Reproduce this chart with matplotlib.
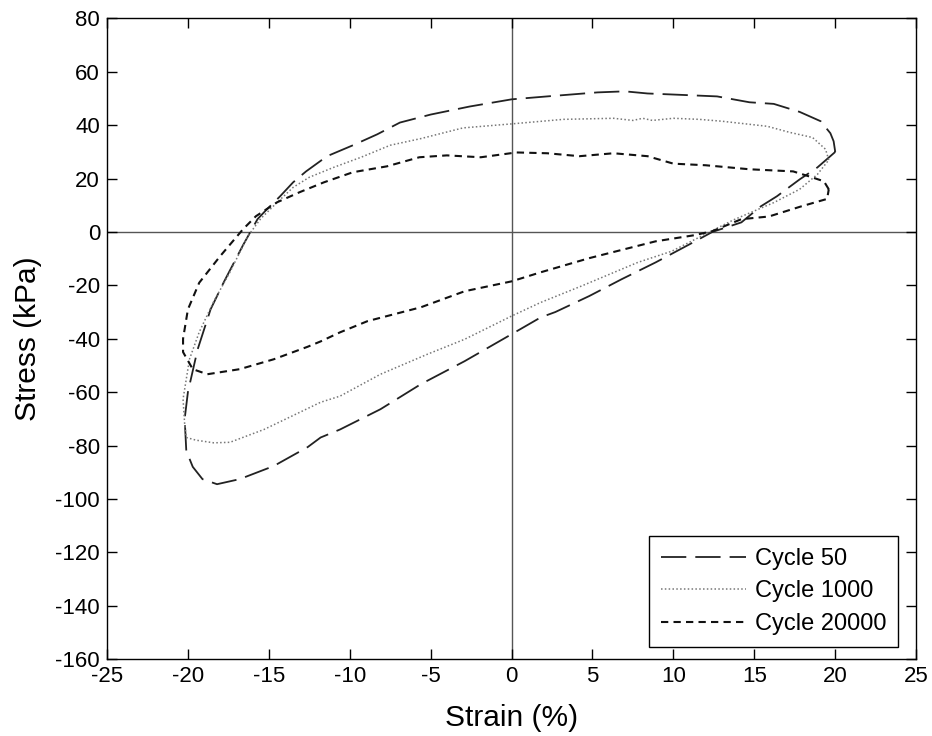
import matplotlib
matplotlib.use("Agg")
import matplotlib.pyplot as plt

# Cycle 50 loop (upper branch right->left, then lower branch left->right)
c50_x = [20.0, 19.9, 19.7, 19.1, 17.8, 16.2, 14.7, 12.7, 10.0, 8.4, 7.0, 5.3, 2.2, 0.0,
         -2.6, -5.0, -6.9, -8.3, -9.8, -11.4, -12.7, -13.5, -14.3, -15.2, -15.7, -16.6,
         -17.8, -18.6, -19.4, -20.0, -20.2, -20.1, -19.7, -19.1, -18.2, -16.8, -14.7,
         -12.6, -11.8, -10.6, -8.1, -5.6, -2.9, 0.0, 1.8, 2.7, 4.8, 6.8, 8.9, 11.0, 12.4,
         14.2, 15.4, 16.4, 17.8, 18.9, 20.0]
c50_y = [30, 34, 37, 41.5, 45, 48, 48.6, 50.8, 51.5, 51.9, 52.7, 52.3, 50.8, 49.7,
         47, 44, 41, 36.6, 32.5, 28.4, 22.7, 18.6, 13.4, 8, 4.8, -5,
         -19, -29, -44, -60, -70, -82, -88, -92.6, -94.5, -92.6, -87.7,
         -80.6, -77, -74, -66.4, -57, -48.4, -38.3, -32, -30, -24, -17.7, -11.4, -4.6, 0,
         3.6, 9.6, 13.4, 19.7, 24.2, 30]

# Cycle 1000 loop
c1000_x = [19.6, 19.4, 18.6, 17.2, 15.8, 13.0, 11.6, 10.0, 8.7, 8.1, 7.5, 6.3, 3.2, 0.0,
           -3.0, -5.6, -7.5, -9.3, -11.0, -12.5, -13.5, -14.5, -15.5, -16.3, -17.4, -18.4,
           -19.3, -19.9, -20.3, -20.2, -20.1, -19.5, -18.4, -17.4, -15.3, -13.1, -11.8,
           -10.6, -8.1, -5.2, -2.9, 0.0, 1.8, 4.3, 7.8, 9.9, 12.2, 13.7, 16.2, 17.8, 18.9, 19.6]
c1000_y = [27, 31, 35.4, 37.3, 39.6, 41.5, 42.2, 42.6, 41.8, 42.6, 41.8, 42.6, 42.2, 40.5,
           39, 35, 32.5, 28, 24.2, 20.5, 16.7, 11, 5, -1.6, -15, -26,
           -37.5, -47.6, -62.6, -72, -77, -78, -79, -78.8, -74, -67.6, -63.8,
           -61.5, -53.3, -45.8, -40.2, -31.5, -26.4, -20.3, -11.4, -7.2, -0.1, 4.5, 11, 16, 21.6, 27]

# Cycle 20000 loop
c20000_x = [19.6, 19.3, 18.4, 17.4, 14.7, 12.0, 10.0, 8.4, 6.3, 4.2, 2.2, 0.3, -1.9, -4.0,
            -5.7, -7.7, -9.8, -11.6, -13.1, -14.5, -15.8, -16.6, -18.0, -19.3, -20.0,
            -20.3, -20.3, -19.7, -18.8, -16.8, -14.7, -12.6, -11.8, -10.6, -8.9, -5.6,
            -2.9, 0.0, 1.8, 4.8, 8.9, 11.3, 12.4, 14.2, 15.9, 17.9, 19.5, 19.6]
c20000_y = [16, 19, 20.8, 22.7, 23.5, 25, 25.6, 28.4, 29.5, 28.4, 29.5, 29.8, 28, 28.7,
            28, 24.6, 22.4, 18.6, 14.9, 11.1, 5.9, 1, -9, -19, -29,
            -40, -45, -51.4, -53.3, -51.4, -47.7, -43, -41, -37.6, -33.4, -28.2,
            -22.2, -18.5, -15.1, -9.8, -3.5, -1.2, 0.3, 4.8, 5.8, 9.6, 12.4, 16]

x_ticks = list(range(-25, 30, 5))
y_ticks = list(range(-160, 100, 20))

plt.rcParams['font.family'] = ['Liberation Sans', 'DejaVu Sans']
plt.rcParams['axes.unicode_minus'] = False

fig = plt.figure(figsize=(9.32, 7.36), dpi=100)
ax = fig.add_axes([0.1148, 0.1046, 0.8682, 0.8703])

ax.axhline(0, color='#555555', lw=1.0, zorder=1)
ax.axvline(0, color='#555555', lw=1.0, zorder=1)

ax.plot(c50_x, c50_y, color='#222222', lw=1.3, dashes=(14, 5), label='Cycle 50', zorder=3)
ax.plot(c1000_x, c1000_y, color='#777777', lw=1.1, dashes=(1, 1.5), label='Cycle 1000', zorder=3)
ax.plot(c20000_x, c20000_y, color='#111111', lw=1.5, dashes=(3.5, 2.5), label='Cycle 20000', zorder=3)

ax.set_xlim(-25, 25)
ax.set_ylim(-160, 80)
ax.set_xticks(x_ticks)
ax.set_yticks(y_ticks)
ax.tick_params(direction='in', length=7, width=1, top=True, right=True, labelsize=16, pad=5)
for s in ax.spines.values():
    s.set_linewidth(1.0)
    s.set_color('black')

ax.set_xlabel('Strain (%)', fontsize=21.5, labelpad=12)
ax.set_ylabel('Stress (kPa)', fontsize=21.5, labelpad=10)

leg = ax.legend(loc='lower right', bbox_to_anchor=(0.978, 0.019), borderaxespad=0,
                fontsize=17, handlelength=3.6, fancybox=False, framealpha=1,
                edgecolor='black', labelspacing=0.45, handletextpad=0.4,
                borderpad=0.5)
leg.get_frame().set_linewidth(1.0)

fig.savefig('out.png', dpi=100)
